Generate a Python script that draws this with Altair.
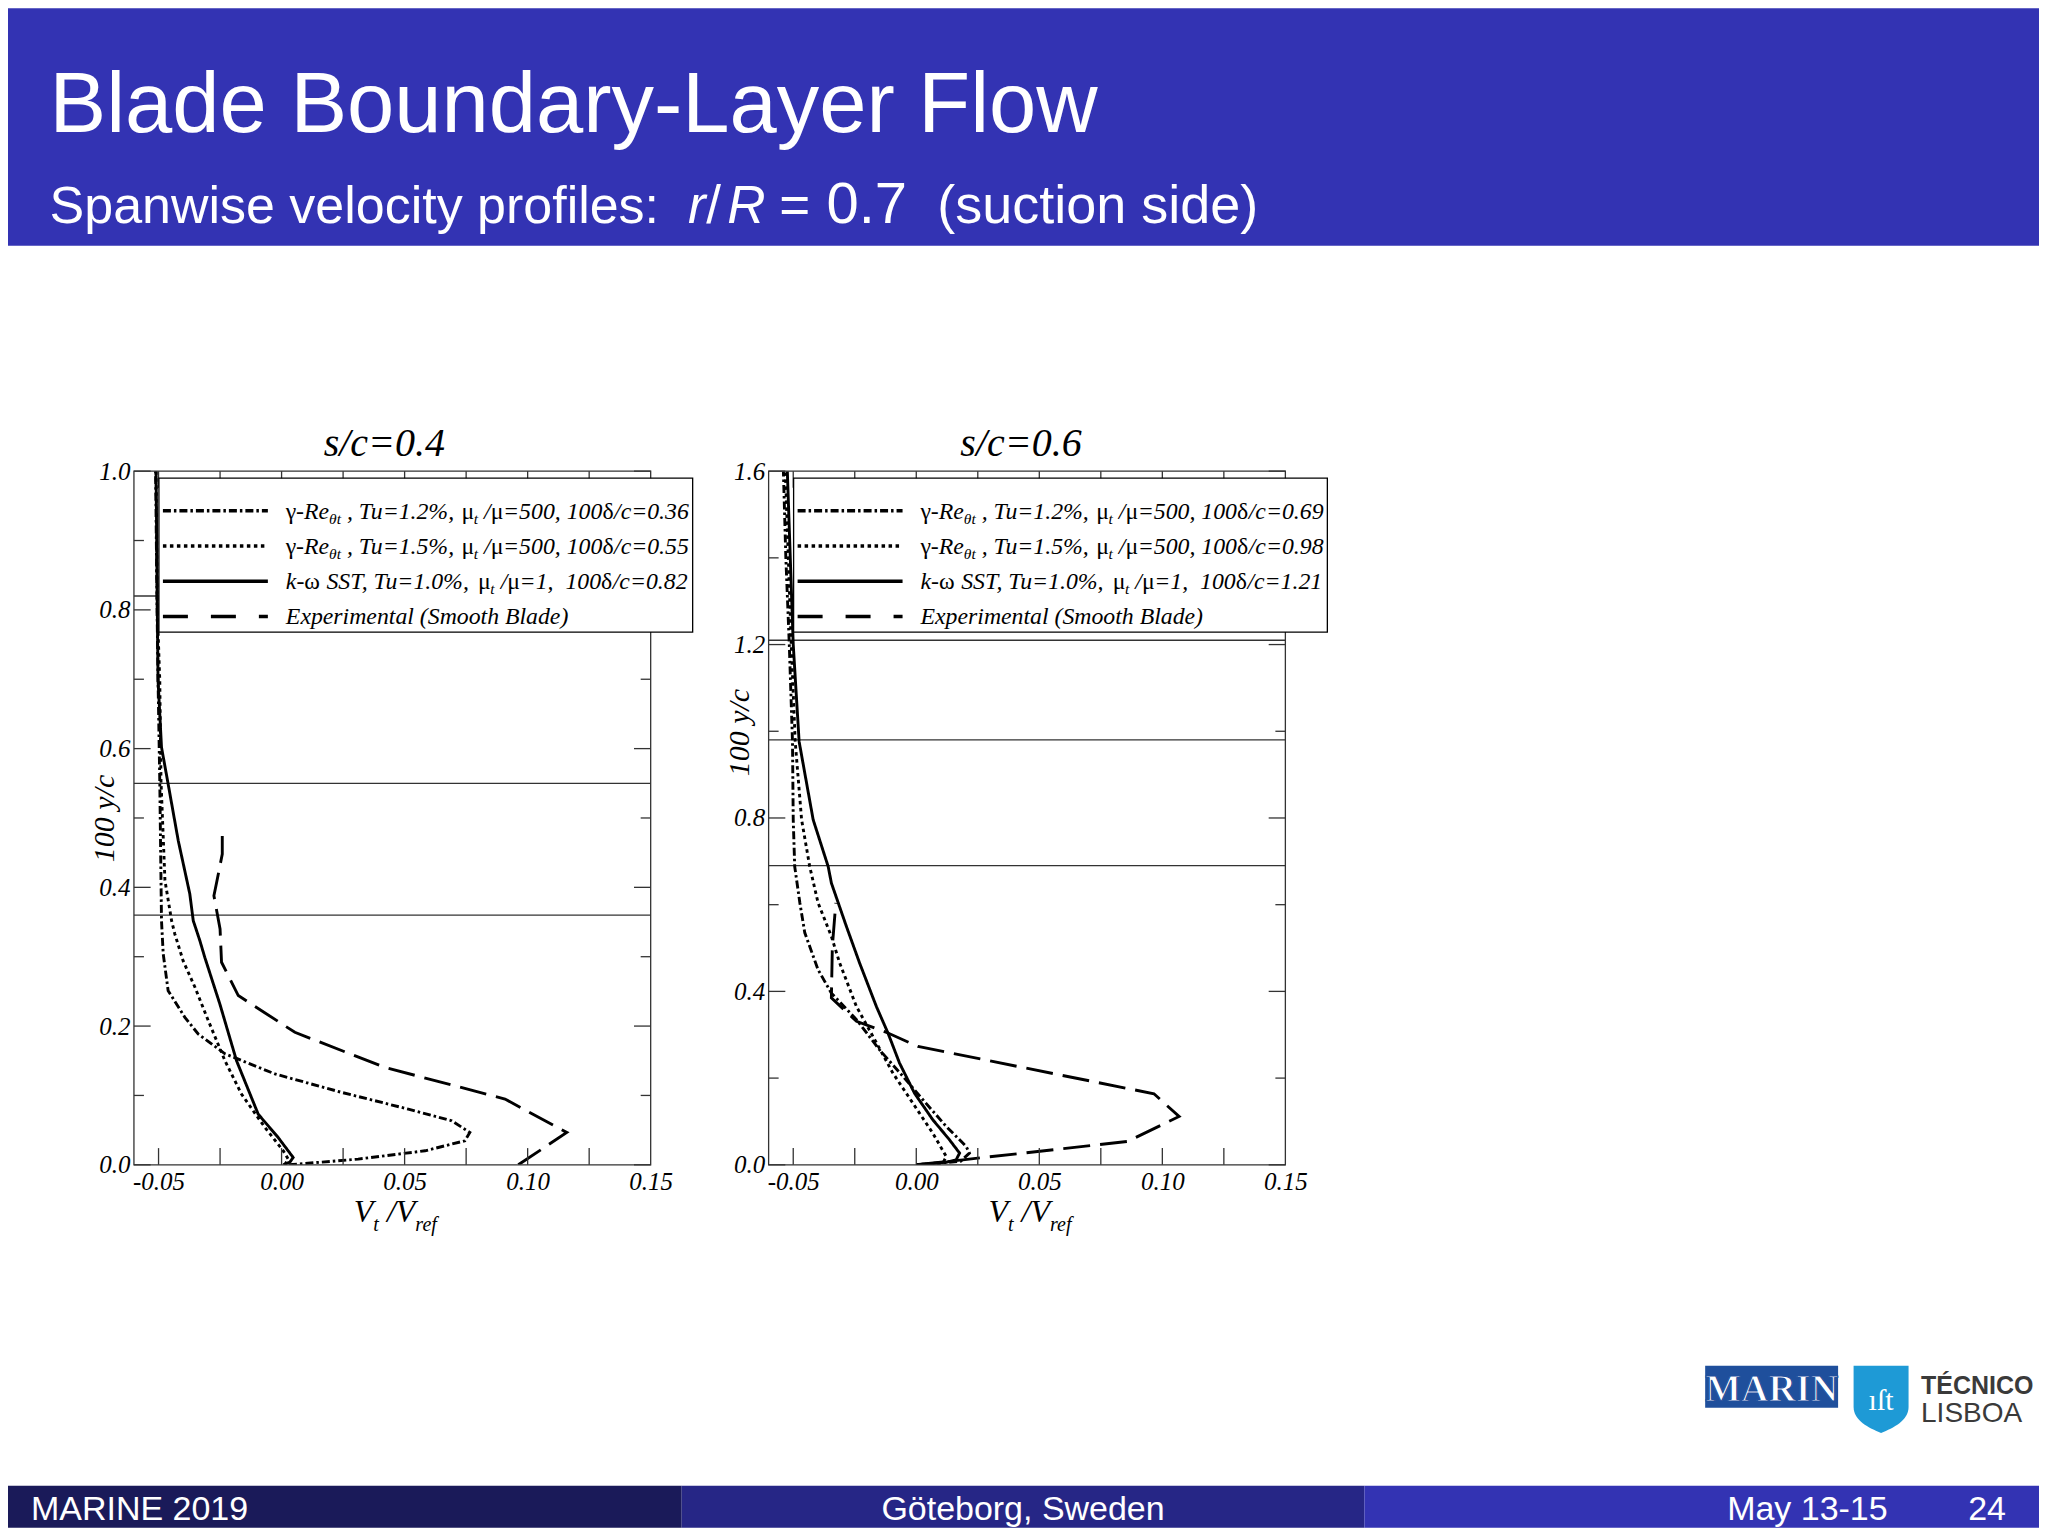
import altair as alt
import pandas as pd

# ======================= DATA =======================
X_DOMAIN = [-0.06, 0.15]
X_LABEL_VALUES = [-0.05, 0.0, 0.05, 0.10, 0.15]
X_TICK_VALUES = [-0.05, -0.025, 0.0, 0.025, 0.05, 0.075, 0.10, 0.125]

# ---- left panel: s/c = 0.4 ----
L_YMAX = 1.0
L_Y_MAJOR = [0.0, 0.2, 0.4, 0.6, 0.8, 1.0]
L_Y_MINOR = [0.1, 0.3, 0.5, 0.7, 0.9]
L_DELTA = [0.36, 0.55, 0.82]
L_G12_X = [0.0030, 0.0311, 0.0583, 0.0745, 0.0765, 0.0691, 0.0515, 0.0244, -0.0027, -0.0230,
           -0.0339, -0.0393, -0.0461, -0.0481, -0.0488, -0.0490, -0.0495, -0.0502, -0.0506, -0.0512]
L_G12_Y = [0.000, 0.0082, 0.0202, 0.0346, 0.0466, 0.0635, 0.0803, 0.1044, 0.131, 0.160,
           0.1886, 0.2126, 0.251, 0.304, 0.352, 0.410, 0.553, 0.698, 0.800, 1.000]
L_G15_X = [0.0013, 0.0027, 0.0007, -0.0068, -0.0163, -0.0230, -0.0298, -0.0352, -0.0400, -0.0434,
           -0.0447, -0.0474, -0.0490, -0.0495, -0.0505, -0.0510]
L_G15_Y = [0.000, 0.008, 0.020, 0.054, 0.102, 0.150, 0.208, 0.256, 0.294, 0.333,
           0.352, 0.410, 0.553, 0.698, 0.800, 1.000]
L_SST_X = [0.0007, 0.0034, 0.0047, -0.0014, -0.0095, -0.0183, -0.0251, -0.0312, -0.0332, -0.0359,
           -0.0373, -0.0420, -0.0461, -0.0488, -0.0502, -0.0505, -0.0510]
L_SST_Y = [0.000, 0.004, 0.0106, 0.0394, 0.073, 0.150, 0.232, 0.299, 0.323, 0.352,
           0.3906, 0.4675, 0.549, 0.602, 0.698, 0.800, 1.000]
L_EXP_X = [0.0962, 0.1159, 0.0908, 0.0420, 0.0054, -0.0176, -0.0244, -0.0250, -0.0275, -0.0264, -0.0241, -0.0241]
L_EXP_Y = [0.000, 0.0466, 0.0948, 0.1404, 0.191, 0.244, 0.292, 0.340, 0.388, 0.407, 0.448, 0.487]
L_LEG = [("1.2%", "500", "0.36"), ("1.5%", "500", "0.55"), ("1.0%", "1", "0.82")]

# ---- right panel: s/c = 0.6 ----
R_YMAX = 1.6
R_Y_MAJOR = [0.0, 0.4, 0.8, 1.2, 1.6]
R_Y_MINOR = [0.2, 0.6, 1.0, 1.4]
R_DELTA = [0.69, 0.98, 1.21]
R_G12_X = [0.0, 0.0180, 0.0216, 0.0203, 0.0122, 0.0027, -0.0054, -0.0149, -0.0243, -0.0345,
           -0.0399, -0.0453, -0.0473, -0.0494, -0.0500, -0.0503, -0.0516, -0.0530, -0.0540]
R_G12_Y = [0.0, 0.008, 0.027, 0.0423, 0.0884, 0.150, 0.204, 0.265, 0.335, 0.396,
           0.450, 0.535, 0.604, 0.688, 0.796, 0.976, 1.200, 1.400, 1.600]
R_G15_X = [0.0, 0.0108, 0.0122, 0.0067, -0.0014, -0.0095, -0.0176, -0.0243, -0.0311, -0.0345,
           -0.0399, -0.0433, -0.0466, -0.0492, -0.0508, -0.0520, -0.0532]
R_G15_Y = [0.0, 0.004, 0.019, 0.073, 0.1423, 0.2115, 0.296, 0.365, 0.465, 0.527,
           0.604, 0.688, 0.796, 0.976, 1.200, 1.400, 1.600]
R_SST_X = [0.0, 0.0122, 0.0162, 0.0176, 0.0135, 0.0067, -0.0007, -0.0068, -0.0115, -0.0162,
           -0.0230, -0.0284, -0.0345, -0.0358, -0.0419, -0.0476, -0.0500, -0.0512, -0.0524]
R_SST_Y = [0.0, 0.006, 0.0115, 0.027, 0.0577, 0.104, 0.165, 0.2346, 0.304, 0.365,
           0.465, 0.550, 0.650, 0.688, 0.796, 0.976, 1.200, 1.400, 1.600]
R_EXP_X = [0.0, 0.0189, 0.0858, 0.1068, 0.0966, 0.0007, -0.0115, -0.0243, -0.0345, -0.0341, -0.0327]
R_EXP_Y = [0.0, 0.0115, 0.0538, 0.1115, 0.1638, 0.273, 0.304, 0.331, 0.385, 0.504, 0.604]
R_LEG = [("1.2%", "500", "0.69"), ("1.5%", "500", "0.98"), ("1.0%", "1", "1.21")]

SERIES = ["g12", "g15", "sst", "exp"]

# ======================= STYLE =======================
SERIF = "Liberation Serif"
SANS = "Liberation Sans"
FRAME = "#333333"
DASHES = [[8, 3, 2.5, 3], [3.5, 3.5], [1, 0], [27, 10]]
LEG_DASHES = [[8, 3, 2.5, 3], [3.5, 3.5], None, [25, 23]]
CW = 2032          # visible canvas width (page is 2048 with 8px margins)
W_P, H_P = 517, 694
PT = 463           # canvas y of the panels' top
DUMMY = pd.DataFrame({"d": [0]})

TI = {' ': 250, '%': 833, '(': 333, ')': 333, ',': 250, '-': 333, '.': 250, '/': 278, ':': 333, '=': 675,
      'A': 611, 'B': 611, 'C': 667, 'E': 611, 'R': 611, 'S': 500, 'T': 556, 'V': 611,
      'a': 500, 'b': 500, 'c': 444, 'd': 500, 'e': 444, 'f': 278, 'h': 500, 'i': 278, 'k': 444,
      'l': 278, 'm': 722, 'n': 500, 'o': 500, 'p': 500, 'r': 389, 's': 389, 't': 278, 'u': 500,
      'x': 444, 'γ': 430, 'μ': 520, 'δ': 490, 'ω': 680, 'θ': 490}


def txt(x, y, s, size, font=SERIF, style="normal", weight="normal", color="black", align="left"):
    return alt.Chart(DUMMY).mark_text(
        text=s, font=font, fontSize=size, fontStyle=style, fontWeight=weight,
        color=color, align=align, baseline="alphabetic"
    ).encode(x=alt.value(x), y=alt.value(y))


def box(x1, x2, y1, y2, color, opacity=1):
    return alt.Chart(DUMMY).mark_rect(color=color, opacity=opacity).encode(
        x=alt.value(x1), x2=alt.value(x2), y=alt.value(y1), y2=alt.value(y2))


def seg_layers(segs, x0, y0, size, sub_size, sub_dy):
    out = []
    x = x0
    for text, kind in segs:
        fs = sub_size if kind == "s" else size
        lead = len(text) - len(text.lstrip(" "))
        w = sum(TI.get(c, 500) for c in text) / 1000 * fs
        out.append(txt(x + lead * 0.25 * fs, y0 + (sub_dy if kind == "s" else 0), text.strip(), fs,
                       style="normal" if kind == "g" else "italic"))
        x += w
    return out


def gamma_row(tu, mu, d):
    return [("γ", "g"), ("-Re", "i"), ("θt", "s"), (" , Tu=" + tu + ", ", "i"), ("μ", "g"), ("t", "s"),
            (" /", "i"), ("μ", "g"), ("=" + mu + ", 100", "i"), ("δ", "g"), ("/c=" + d, "i")]


def sst_row(tu, mu, d):
    return [("k-", "i"), ("ω", "g"), (" SST, Tu=" + tu + ", ", "i"), ("μ", "g"), ("t", "s"),
            (" /", "i"), ("μ", "g"), ("=" + mu + ",", "i"), ("  100", "i"), ("δ", "g"), ("/c=" + d, "i")]


def curves_df(arrs):
    rows = []
    for s, (xs, ys) in zip(SERIES, arrs):
        for i, (x, y) in enumerate(zip(xs, ys)):
            rows.append({"series": s, "x": x, "y": y, "i": i})
    return pd.DataFrame(rows)


def panel(curves, deltas, ymax, ymajor, yminor, title, title_dx, ytitle_y, leg):
    W, H = W_P, H_P
    xsc = alt.Scale(domain=X_DOMAIN, nice=False, zero=False)
    ysc = alt.Scale(domain=[0, ymax], nice=False, zero=False)
    lab = dict(labelFont=SERIF, labelFontStyle="italic", labelFontSize=25, labelColor="black",
               labelFlush=False, labelOverlap=False, ticks=False, domain=False, grid=False)
    xaxis = alt.Axis(values=X_LABEL_VALUES, title=None, labelPadding=5,
                     labelExpr="datum.value < 0 ? '-' + format(-datum.value, '.2f') : format(datum.value, '.2f')",
                     **lab)
    yaxis = alt.Axis(values=ymajor, format=".1f", labelPadding=4, title="100 y/c", titleX=-20, titleY=ytitle_y,
                     titleAngle=270, titleAlign="center", titleBaseline="alphabetic", titleFont=SERIF,
                     titleFontStyle="italic", titleFontWeight="normal", titleFontSize=30, titleColor="black",
                     **lab)
    layers = []
    layers.append(alt.Chart(pd.DataFrame({"d": deltas})).mark_rule(color=FRAME, strokeWidth=1.3).encode(
        y=alt.Y("d:Q", scale=ysc, axis=yaxis), x=alt.value(0), x2=alt.value(W)))
    layers.append(alt.Chart(curves).mark_line(color="black", strokeWidth=2.9, clip=True).encode(
        x=alt.X("x:Q", scale=xsc, axis=xaxis),
        y=alt.Y("y:Q", scale=ysc, axis=yaxis),
        strokeDash=alt.StrokeDash("series:N", scale=alt.Scale(domain=SERIES, range=DASHES), legend=None),
        order=alt.Order("i:Q")))
    xt = pd.DataFrame({"v": X_TICK_VALUES})
    for y1, y2 in ((H, H - 16.7), (0, 16.7)):
        layers.append(alt.Chart(xt).mark_rule(color=FRAME, strokeWidth=1.3).encode(
            x=alt.X("v:Q", scale=xsc, axis=xaxis), y=alt.value(y1), y2=alt.value(y2)))
    for vals, L in ((ymajor, 16.7), (yminor, 10)):
        df = pd.DataFrame({"v": vals})
        for x1, x2 in ((0, L), (W, W - L)):
            layers.append(alt.Chart(df).mark_rule(color=FRAME, strokeWidth=1.3).encode(
                y=alt.Y("v:Q", scale=ysc, axis=yaxis), x=alt.value(x1), x2=alt.value(x2)))
    layers.append(alt.Chart(DUMMY).mark_rect(fill="white", fillOpacity=0, stroke=FRAME, strokeWidth=1.3).encode(
        x=alt.value(0), x2=alt.value(W), y=alt.value(0), y2=alt.value(H)))
    # legend box
    layers.append(alt.Chart(DUMMY).mark_rect(fill="white", stroke="black", strokeWidth=1.3).encode(
        x=alt.value(25), x2=alt.value(559), y=alt.value(7), y2=alt.value(161)))
    rows = [gamma_row(*leg[0]), gamma_row(*leg[1]), sst_row(*leg[2]), [("Experimental (Smooth Blade)", "i")]]
    for k in range(4):
        ry = 39.5 + 35.3 * k
        kw = dict(color="black", strokeWidth=3.5)
        if LEG_DASHES[k] is not None:
            kw["strokeDash"] = LEG_DASHES[k]
        layers.append(alt.Chart(DUMMY).mark_rule(**kw).encode(
            x=alt.value(29), x2=alt.value(134), y=alt.value(ry)))
        layers += seg_layers(rows[k], 152, ry + 8, 23.8, 15.5, 5)
    # x axis title  V_t / V_ref
    layers += seg_layers([("V", "i"), ("t", "s"), (" /V", "i"), ("ref", "s")], 220, H + 57, 32, 20, 9)
    # panel title
    layers.append(txt(W / 2 + title_dx, -15, title, 40, style="italic", align="center"))
    return alt.layer(*layers).properties(width=W, height=H)


def spacer(w, h):
    return box(0, w, 0, h, "white", opacity=0).properties(width=w, height=h)


left = panel(curves_df([(L_G12_X, L_G12_Y), (L_G15_X, L_G15_Y), (L_SST_X, L_SST_Y), (L_EXP_X, L_EXP_Y)]),
             L_DELTA, L_YMAX, L_Y_MAJOR, L_Y_MINOR, "s/c=0.4", -8, 347, L_LEG)
right = panel(curves_df([(R_G12_X, R_G12_Y), (R_G15_X, R_G15_Y), (R_SST_X, R_SST_Y), (R_EXP_X, R_EXP_Y)]),
              R_DELTA, R_YMAX, R_Y_MAJOR, R_Y_MINOR, "s/c=0.6", -6, 261, R_LEG)

# ---- slide decoration (header, logos, footer), drawn around the panels ----
HB = "#3333B3"
SHIELD = "M-1,-1.2 L1,-1.2 L1,0.3 C1,0.8 0.45,1.05 0,1.25 C-0.45,1.05 -1,0.8 -1,0.3 Z"
LG = 694   # logos block origin (canvas 1157)
FT = 1015  # footer top (canvas 1478)
SUB_Y = 215 - PT
decor = alt.layer(
    box(0, 125.3, 0, H_P, "white", opacity=0),
    # header
    box(0, CW, -PT, 237.5 - PT, HB),
    txt(41.6, 124 - PT, "Blade Boundary-Layer Flow", 85, font=SANS, color="white"),
    txt(41.6, SUB_Y, "Spanwise velocity profiles:", 52, font=SANS, color="white"),
    txt(680.3, SUB_Y, "r", 53, font=SANS, style="italic", color="white"),
    txt(698.6, SUB_Y, "/", 53, font=SANS, color="white"),
    txt(719.5, SUB_Y, "R", 53, font=SANS, style="italic", color="white"),
    txt(771.7, SUB_Y, "=", 53, font=SANS, color="white"),
    txt(818.8, SUB_Y, "0.7", 58, font=SANS, color="white"),
    txt(929.8, SUB_Y, "(suction side)", 54, font=SANS, color="white"),
    # logos
    box(1698, 1831, LG + 201, LG + 243, "#1f4f9c"),
    alt.Chart(DUMMY).mark_text(text="MARIN", font=SERIF, fontSize=38, fontWeight="bold", fill="white",
                               stroke="#1f4f9c", strokeWidth=1.2, align="center", baseline="alphabetic").encode(
        x=alt.value(1764.5), y=alt.value(LG + 236)),
    alt.Chart(DUMMY).mark_point(shape=SHIELD, size=3025, filled=True, color="#1e9ad6", opacity=1).encode(
        x=alt.value(1874), y=alt.value(LG + 234)),
    txt(1874, LG + 245, "ıſt", 30, font=SERIF, color="white", align="center"),
    txt(1914, LG + 229, "TÉCNICO", 25, font=SANS, weight="bold", color="#3a3a3a"),
    txt(1914, LG + 257, "LISBOA", 28, font=SANS, color="#3a3a3a"),
    # footer (clipped to the visible canvas height 1520)
    box(0, 674, FT, FT + 42, "#1A1A59"),
    box(674, 1357, FT, FT + 42, "#262686"),
    box(1357, CW, FT, FT + 42, HB),
    txt(23, FT + 34, "MARINE 2019", 34, font=SANS, color="white"),
    txt(1015.5, FT + 34, "Göteborg, Sweden", 34, font=SANS, color="white", align="center"),
    txt(1720, FT + 34, "May 13-15", 34, font=SANS, color="white"),
    txt(1999, FT + 34, "24", 34, font=SANS, color="white", align="right"),
).properties(width=125.3, height=H_P)

chart = alt.hconcat(decor, left, spacer(118, H_P), right,
                    spacer(CW - 125.3 - 2 * W_P - 118, H_P), spacing=0, bounds="flush").properties(
    padding=0).configure_view(stroke=None)

chart.save("out.html", embed_options={"renderer": "svg", "actions": False})
